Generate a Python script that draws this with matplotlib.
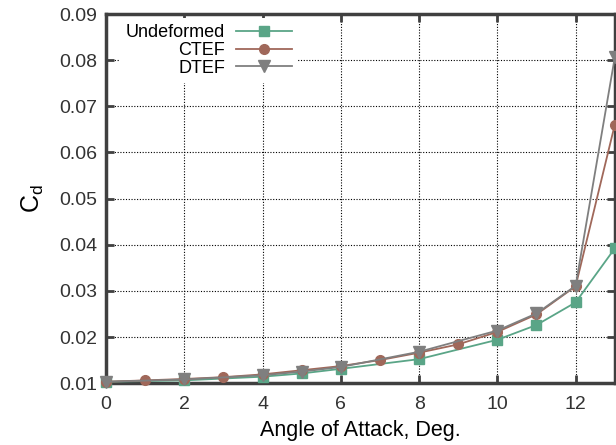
import matplotlib
matplotlib.use("Agg")
import matplotlib.pyplot as plt
import numpy as np

plt.rcParams['font.family'] = ['Liberation Sans', 'DejaVu Sans']

# angle of attack (deg) for each case
alpha_undeformed = [0, 2, 4, 5, 6, 8, 10, 11, 12, 13]
cd_undeformed = [0.0103, 0.0106, 0.0114, 0.0121, 0.0131,
                 0.0152, 0.0194, 0.0226, 0.0275, 0.0392]
alpha_ctef = [0, 1, 2, 3, 4, 5, 6, 7, 8, 9, 10, 11, 12, 13]
cd_ctef = [0.0103, 0.0106, 0.0109, 0.0113, 0.0119, 0.0128, 0.0137,
           0.0150, 0.0166, 0.0184, 0.0211, 0.0249, 0.0310, 0.0660]
alpha_dtef = [0, 2, 4, 5, 6, 8, 10, 11, 12, 13]
cd_dtef = [0.0103, 0.0108, 0.0117, 0.0125, 0.0135,
           0.0168, 0.0214, 0.0251, 0.0311, 0.0806]

fig = plt.figure(figsize=(6.16, 4.45), dpi=100)
ax = fig.add_axes([0.172, 0.139, 0.826, 0.8295])

ax.plot(alpha_undeformed, cd_undeformed, color='#5aa587', lw=1.3, marker='s',
        ms=7, label='Undeformed', clip_on=False, zorder=3)
ax.plot(alpha_ctef, cd_ctef, color='#a0685a', lw=1.3, marker='o', ms=7,
        label='CTEF', clip_on=False, zorder=3)
ax.plot(alpha_dtef, cd_dtef, color='#7f7f7f', lw=1.3, marker='v', ms=9,
        label='DTEF', clip_on=False, zorder=3)

ax.set_xlim(0, 13)
ax.set_ylim(0.01, 0.09)
ax.set_xticks(np.arange(0, 13, 2))
ax.set_yticks(np.arange(0.01, 0.0901, 0.01))
ax.set_yticklabels(['%.2f' % v for v in np.arange(0.01, 0.0901, 0.01)])

ax.grid(True, color='black', linestyle=(0, (1, 1.5)), linewidth=0.8)
for s in ax.spines.values():
    s.set_linewidth(2.5)
    s.set_color('#404040')
ax.tick_params(direction='in', length=6, width=2, color='#404040',
               labelsize=14, labelcolor='#333333', top=True, right=True)
ax.tick_params(axis='x', pad=9)
ax.tick_params(axis='y', pad=6)

ax.set_xlabel('Angle of Attack, Deg.', fontsize=15.5, labelpad=5)
ax.set_ylabel('C$_\\mathregular{d}$', fontsize=18, labelpad=10)

leg = ax.legend(loc='upper left', bbox_to_anchor=(0.02, 1.0), frameon=True,
                markerfirst=False, fontsize=13, handlelength=3.1,
                handletextpad=0.6, labelspacing=0.05, borderpad=0.35,
                borderaxespad=0.2)
leg.get_frame().set_edgecolor('none')
leg.get_frame().set_facecolor('white')
leg.get_frame().set_alpha(1)
leg.get_frame().set_boxstyle('square', pad=0)
# right-align the rows so the labels sit flush against the line samples
for col in leg._legend_handle_box.get_children():
    col.align = 'right'

fig.savefig('out.png', dpi=100)
